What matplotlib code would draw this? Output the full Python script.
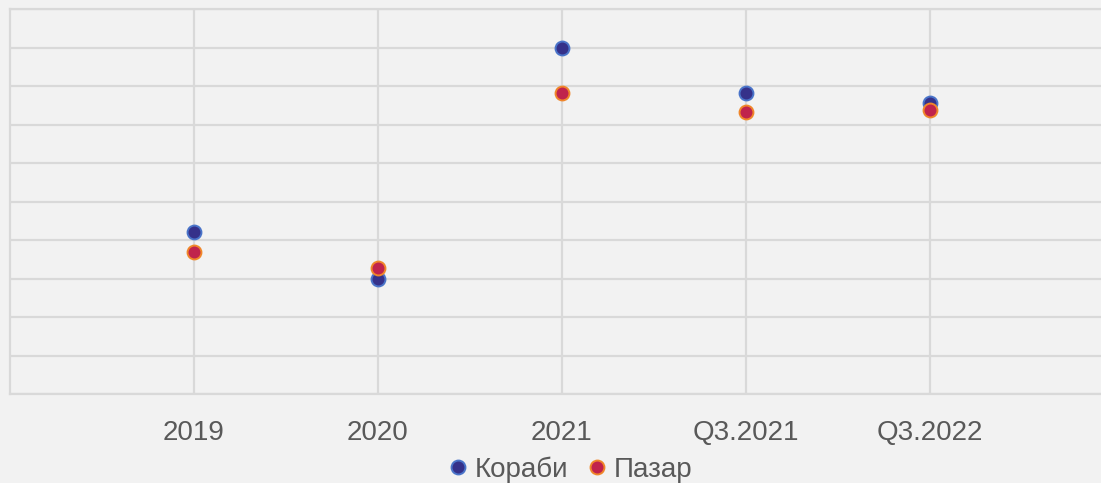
import matplotlib.pyplot as plt
from matplotlib.lines import Line2D

plt.rcParams["font.family"] = ["Liberation Sans", "DejaVu Sans"]

# данни (относителна скала, без етикети по Y)
periods = ["2019", "2020", "2021", "Q3.2021", "Q3.2022"]
korabi = [4.22, 3.00, 8.99, 7.81, 7.55]
pazar = [3.70, 3.26, 7.81, 7.33, 7.38]

BG = "#f2f2f2"
GRID = "#d9d9d9"
TXT = "#595959"

fig = plt.figure(figsize=(11.01, 4.83), dpi=100, facecolor=BG)
ax = fig.add_axes([10 / 1101, 1 - 394 / 483, 1104 / 1101, 385 / 483])
ax.set_facecolor(BG)

x = list(range(1, len(periods) + 1))
ax.plot(x, korabi, linestyle="none", marker="o", ms=10, mew=1.4,
        markerfacecolor="#35318a", markeredgecolor="#4a74c9", zorder=3)
ax.plot(x, pazar, linestyle="none", marker="o", ms=10, mew=1.4,
        markerfacecolor="#c0234c", markeredgecolor="#f0862a", zorder=4)

ax.set_xlim(0, len(periods) + 1)
ax.set_ylim(0, 10)
ax.set_xticks(x)
ax.set_xticklabels(periods, fontsize=20, color=TXT)
ax.set_yticks(range(0, 11))
ax.set_yticklabels([])
ax.tick_params(length=0, pad=19)
ax.grid(True, color=GRID, linewidth=1.6)
ax.set_axisbelow(True)
for s in ax.spines.values():
    s.set_color(GRID)
    s.set_linewidth(1.6)

handles = [
    Line2D([], [], linestyle="none", marker="o", ms=10, mew=1.4,
           markerfacecolor="#35318a", markeredgecolor="#4a74c9"),
    Line2D([], [], linestyle="none", marker="o", ms=10, mew=1.4,
           markerfacecolor="#c0234c", markeredgecolor="#f0862a"),
]
fig.legend(handles, ["Кораби", "Пазар"], loc="lower center", ncol=2,
           frameon=False, fontsize=20, labelcolor=TXT, handletextpad=0.1,
           columnspacing=0.55, handlelength=1.0, bbox_to_anchor=(0.516, -0.052))

fig.savefig("out.png", dpi=100, facecolor=BG)
